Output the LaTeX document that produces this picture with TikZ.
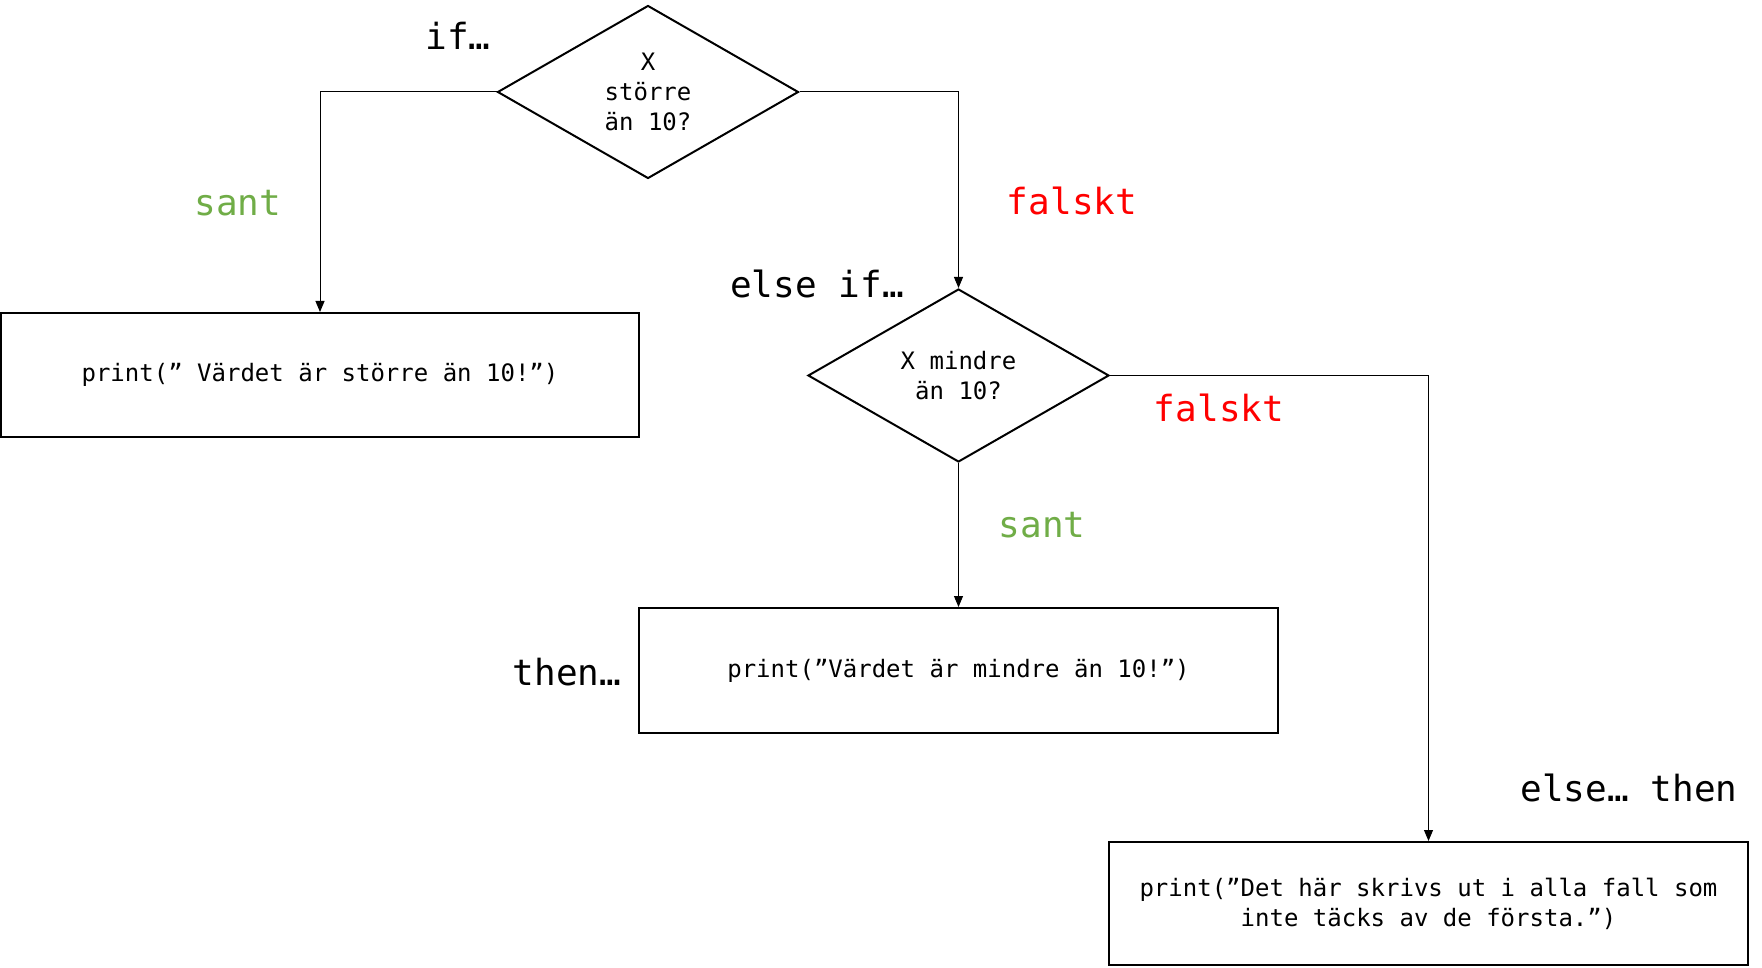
\documentclass[tikz,border=0pt]{standalone}
\usepackage{fontspec}
\setmonofont{DejaVu Sans Mono}
\usetikzlibrary{shapes.geometric,arrows.meta}
\definecolor{santgreen}{HTML}{70AD47}
\definecolor{falskred}{HTML}{FF0000}
\begin{document}
\begin{tikzpicture}[x=1pt,y=-1pt,
  box/.style={draw, line width=2pt, rectangle, inner sep=0pt, align=center,
    font=\ttfamily\fontsize{24}{30}\selectfont},
  decision/.style={draw, line width=2pt, diamond, inner sep=0pt, align=center,
    minimum width=301pt, minimum height=173pt,
    font=\ttfamily\fontsize{24}{30}\selectfont},
  conn/.style={line width=1pt, -{Triangle[length=11pt,width=9pt]}},
  lbl/.style={font=\ttfamily\fontsize{36}{40}\selectfont, inner sep=0pt},
]
\useasboundingbox (0,0) rectangle (1762,968);
\fill[white] (0,0) rectangle (1762,968);

\node[decision] (d1) at (648,92) {X\\större\\än 10?};
\node[box, minimum width=638pt, minimum height=124pt] (b1) at (320,375) {print(” Värdet är större än 10!”)};
\node[decision] (d2) at (958.5,375.5) {X mindre\\än 10?};
\node[box, minimum width=639pt, minimum height=125pt] (b2) at (958.5,670.5) {print(”Värdet är mindre än 10!”)};
\node[box, minimum width=639pt, minimum height=123pt] (b3) at (1428.5,903.5) {print(”Det här skrivs ut i alla fall som\\inte täcks av de första.”)};

\draw[conn] (d1.west) -| (b1.north);
\draw[conn] (d1.east) -| (d2.north);
\draw[conn] (d2.south) -- (b2.north);
\draw[conn] (d2.east) -| (b3.north);

\node[lbl] (l1) at (458,36) {if…};
\node[lbl, text=santgreen] (l2) at (238,203) {sant};
\node[lbl, text=falskred] (l3) at (1072,201) {falskt};
\node[lbl] (l4) at (817,284) {else if…};
\node[lbl, text=falskred] (l5) at (1219,408) {falskt};
\node[lbl, text=santgreen] (l6) at (1042,525) {sant};
\node[lbl] (l7) at (567,672) {then…};
\node[lbl] (l8) at (1629,788) {else… then};
\end{tikzpicture}
\end{document}
